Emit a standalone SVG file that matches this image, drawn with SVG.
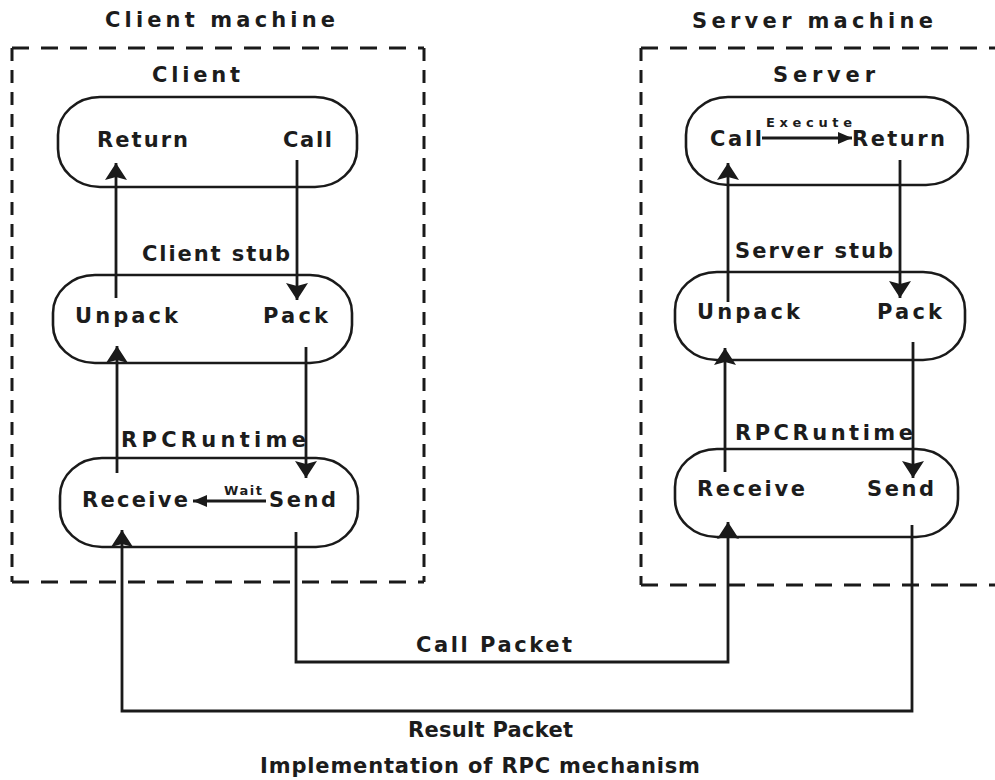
<svg xmlns="http://www.w3.org/2000/svg" width="995" height="780" viewBox="0 0 995 780">
  <style>
    .lbl { font-family: "DejaVu Sans", Verdana, sans-serif; font-weight: bold; font-size: 21px; fill: #1c1c1c; }
    .small { font-family: "DejaVu Sans", Verdana, sans-serif; font-weight: bold; font-size: 13px; fill: #1c1c1c; }
    .box { fill: none; stroke: #1a1a1a; stroke-width: 2.6; }
    .hdash { stroke: #1a1a1a; stroke-width: 3; stroke-dasharray: 17 12; fill: none; }
    .vdash { stroke: #1a1a1a; stroke-width: 3; stroke-dasharray: 13 9; fill: none; }
    .wire { fill: none; stroke: #1a1a1a; stroke-width: 2.8; }
  </style>
  <defs>
    <marker id="arrow" markerUnits="userSpaceOnUse" markerWidth="18" markerHeight="22" refX="17" refY="11" orient="auto">
      <path d="M0,0 L17,11 L0,22 L3,11 z" fill="#1a1a1a"/>
    </marker>
    <marker id="arrowSmall" markerUnits="userSpaceOnUse" markerWidth="15" markerHeight="12" refX="14" refY="6" orient="auto">
      <path d="M0,0 L14,6 L0,12 z" fill="#1a1a1a"/>
    </marker>
  </defs>

  <rect width="995" height="780" fill="#ffffff"/>

  <!-- machine boundaries -->
  <g id="client-machine">
    <text class="lbl" x="105" y="27" textLength="230" lengthAdjust="spacing">Client machine</text>
    <line class="hdash" x1="12" y1="48" x2="424" y2="48"/>
    <line class="vdash" x1="12" y1="48" x2="12" y2="582"/>
    <line class="vdash" x1="424" y1="48" x2="424" y2="582"/>
    <line class="hdash" x1="12" y1="582" x2="424" y2="582"/>
  </g>
  <g id="server-machine">
    <text class="lbl" x="692" y="28" textLength="241" lengthAdjust="spacing">Server machine</text>
    <line class="hdash" x1="641" y1="48" x2="995" y2="48"/>
    <line class="vdash" x1="641" y1="48" x2="641" y2="585"/>
    <line class="hdash" x1="641" y1="585" x2="995" y2="585"/>
  </g>

  <!-- client side -->
  <g id="client">
    <text class="lbl" x="152" y="82" textLength="88" lengthAdjust="spacing">Client</text>
    <rect class="box" x="58" y="97" width="299" height="90" rx="42" ry="38"/>
    <text class="lbl" x="97" y="147" textLength="91" lengthAdjust="spacing">Return</text>
    <text class="lbl" x="283" y="147" textLength="49" lengthAdjust="spacing">Call</text>
  </g>
  <g id="client-stub">
    <text class="lbl" x="142" y="261" textLength="148" lengthAdjust="spacing">Client stub</text>
    <rect class="box" x="53" y="275" width="299" height="88" rx="42" ry="38"/>
    <text class="lbl" x="75" y="323" textLength="103" lengthAdjust="spacing">Unpack</text>
    <text class="lbl" x="263" y="323" textLength="65" lengthAdjust="spacing">Pack</text>
  </g>
  <g id="client-runtime">
    <text class="lbl" x="121" y="447" textLength="185" lengthAdjust="spacing">RPCRuntime</text>
    <rect class="box" x="60" y="458" width="298" height="89" rx="42" ry="38"/>
    <text class="lbl" x="82" y="507" textLength="106" lengthAdjust="spacing">Receive</text>
    <text class="lbl" x="269" y="507" textLength="67" lengthAdjust="spacing">Send</text>
    <text class="small" x="224" y="495" textLength="38" lengthAdjust="spacing">Wait</text>
  </g>

  <!-- server side -->
  <g id="server">
    <text class="lbl" x="773" y="82" textLength="102" lengthAdjust="spacing">Server</text>
    <rect class="box" x="686" y="97" width="282" height="88" rx="42" ry="38"/>
    <text class="lbl" x="710" y="146" textLength="52" lengthAdjust="spacing">Call</text>
    <text class="lbl" x="852" y="146" textLength="93" lengthAdjust="spacing">Return</text>
    <text class="small" x="766" y="127" textLength="86" lengthAdjust="spacing">Execute</text>
  </g>
  <g id="server-stub">
    <text class="lbl" x="735" y="258" textLength="158" lengthAdjust="spacing">Server stub</text>
    <rect class="box" x="675" y="272" width="290" height="88" rx="42" ry="38"/>
    <text class="lbl" x="697" y="319" textLength="103" lengthAdjust="spacing">Unpack</text>
    <text class="lbl" x="877" y="319" textLength="65" lengthAdjust="spacing">Pack</text>
  </g>
  <g id="server-runtime">
    <text class="lbl" x="735" y="440" textLength="178" lengthAdjust="spacing">RPCRuntime</text>
    <rect class="box" x="675" y="449" width="283" height="88" rx="42" ry="38"/>
    <text class="lbl" x="697" y="496" textLength="108" lengthAdjust="spacing">Receive</text>
    <text class="lbl" x="867" y="496" textLength="67" lengthAdjust="spacing">Send</text>
  </g>

  <!-- connectors -->
  <g id="connectors">
    <line class="wire" x1="297" y1="160" x2="297" y2="300" marker-end="url(#arrow)"/>
    <line class="wire" x1="116" y1="298" x2="116" y2="163" marker-end="url(#arrow)"/>
    <line class="wire" x1="306" y1="347" x2="306" y2="478" marker-end="url(#arrow)"/>
    <line class="wire" x1="117" y1="473" x2="117" y2="346" marker-end="url(#arrow)"/>
    <line class="wire" x1="266" y1="501" x2="193" y2="501" marker-end="url(#arrowSmall)"/>

    <line class="wire" x1="762" y1="138" x2="852" y2="138" marker-end="url(#arrowSmall)"/>
    <line class="wire" x1="900" y1="160" x2="900" y2="298" marker-end="url(#arrow)"/>
    <line class="wire" x1="728" y1="302" x2="728" y2="163" marker-end="url(#arrow)"/>
    <line class="wire" x1="913" y1="342" x2="913" y2="478" marker-end="url(#arrow)"/>
    <line class="wire" x1="725" y1="472" x2="725" y2="348" marker-end="url(#arrow)"/>

    <path class="wire" d="M296,532 V662 H728 V522" marker-end="url(#arrow)"/>
    <path class="wire" d="M912,525 V711 H122 V530" marker-end="url(#arrow)"/>
  </g>

  <!-- packet labels and caption -->
  <text class="lbl" x="416" y="652" textLength="156" lengthAdjust="spacing">Call Packet</text>
  <text class="lbl" x="408" y="737" textLength="165" lengthAdjust="spacing">Result Packet</text>
  <text class="lbl" x="260" y="773" textLength="440" lengthAdjust="spacing">Implementation of RPC mechanism</text>
</svg>
